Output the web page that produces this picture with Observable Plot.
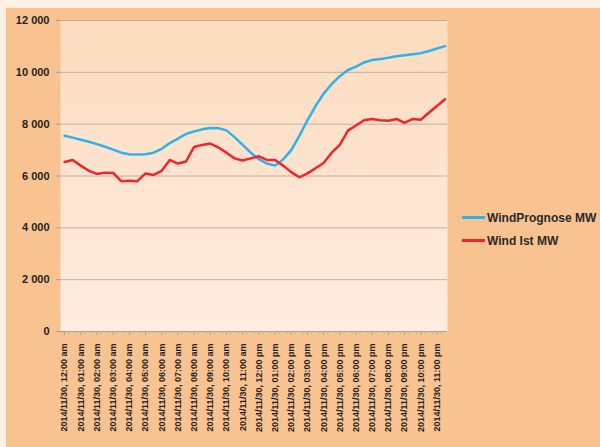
<!DOCTYPE html>
<html><head><meta charset="utf-8">
<script src="https://cdn.jsdelivr.net/npm/d3@7"></script>
<script src="https://cdn.jsdelivr.net/npm/@observablehq/plot@0.6"></script>
<style>
body{margin:0;background:#f9c291;}
#wrap{position:relative;width:600px;height:447px;background:#f9c291;overflow:hidden;font-family:"Liberation Sans",Arial,sans-serif;}
.strip-top{position:absolute;left:0;top:0;width:600px;height:7px;background:#fdf0e5;border-bottom:1px solid #fde6d2;}
.strip-left{position:absolute;left:0;top:0;width:6px;height:447px;background:#fdf0e5;}
#chart{position:absolute;left:0;top:0;}
#legend{position:absolute;left:462px;top:206px;font-size:12px;font-weight:bold;color:#2a2a2a;}
#legend .row{height:23px;display:flex;align-items:center;}
#legend .sw{display:inline-block;width:23px;height:3px;margin-right:2px;}
</style></head>
<body>
<div id="wrap"><div class="strip-top"></div><div class="strip-left"></div><div id="chart"></div><div id="legend"></div></div>
<script>
// Series names and colours
const seriesNames = ["WindPrognose MW", "Wind Ist MW"];
const seriesColors = ["#2db3e8", "#f2232b"];

// Half-hour time steps (hours since 2014/11/30 00:00)
const hours = d3.range(48).map(i => i / 2);

// WindPrognose MW (blue)
const prognose = [
  7550, 7480, 7400, 7320, 7230, 7130, 7020, 6900, 6840, 6830,
  6840, 6900, 7050, 7270, 7440, 7620, 7720, 7800, 7850, 7840,
  7760, 7500, 7200, 6900, 6650, 6480, 6400, 6640, 7000, 7550,
  8150, 8700, 9180, 9550, 9850, 10090, 10220, 10380, 10480, 10510,
  10560, 10620, 10660, 10700, 10740, 10820, 10920, 11010
];

// Wind Ist MW (red)
const ist = [
  6540, 6620, 6400, 6200, 6080, 6130, 6120, 5800, 5820, 5800,
  6100, 6040, 6200, 6620, 6480, 6560, 7120, 7200, 7250, 7100,
  6900, 6680, 6600, 6680, 6760, 6620, 6620, 6400, 6150, 5950,
  6100, 6300, 6500, 6900, 7200, 7750, 7950, 8150, 8200, 8150,
  8130, 8200, 8050, 8200, 8170, 8440, 8700, 8960
];

// Axis ticks
const yTicks = [0, 2000, 4000, 6000, 8000, 10000, 12000];
const yTickLabels = ["0", "2 000", "4 000", "6 000", "8 000", "10 000", "12 000"];
const xTickHours = d3.range(24);
const xTickLabels = [
  "2014/11/30, 12:00 am", "2014/11/30, 01:00 am", "2014/11/30, 02:00 am", "2014/11/30, 03:00 am",
  "2014/11/30, 04:00 am", "2014/11/30, 05:00 am", "2014/11/30, 06:00 am", "2014/11/30, 07:00 am",
  "2014/11/30, 08:00 am", "2014/11/30, 09:00 am", "2014/11/30, 10:00 am", "2014/11/30, 11:00 am",
  "2014/11/30, 12:00 pm", "2014/11/30, 01:00 pm", "2014/11/30, 02:00 pm", "2014/11/30, 03:00 pm",
  "2014/11/30, 04:00 pm", "2014/11/30, 05:00 pm", "2014/11/30, 06:00 pm", "2014/11/30, 07:00 pm",
  "2014/11/30, 08:00 pm", "2014/11/30, 09:00 pm", "2014/11/30, 10:00 pm", "2014/11/30, 11:00 pm"
];

const rows = hours.map((h, i) => ({h, prog: prognose[i], ist: ist[i]}));

const chart = Plot.plot({
  width: 600, height: 447,
  marginLeft: 60, marginRight: 153, marginTop: 20, marginBottom: 116,
  style: {background: "transparent", fontFamily: "'Liberation Sans', Arial, sans-serif", color: "#222"},
  x: {type: "linear", domain: [-0.25, 23.65]},
  y: {domain: [0, 12000]},
  marks: [
    Plot.frame({fill: "url(#bggrad)", stroke: "none"}),
    Plot.gridY(yTicks, {stroke: "#a39b93", strokeOpacity: 0.7, strokeWidth: 1}),
    Plot.ruleY([0], {stroke: "#a8a19a"}),
    Plot.axisY({ticks: yTicks, tickFormat: d => yTickLabels[yTicks.indexOf(d)], tickSize: 4, tickPadding: 7,
      fontSize: 11, fontWeight: "bold", label: null, stroke: "#a8a19a"}),
    Plot.axisX({ticks: hours.map(h => h + 0.25).slice(0, 47), tickFormat: () => "", tickSize: 3, label: null, stroke: "#b5aea7"}),
    Plot.axisX({ticks: xTickHours, tickFormat: d => xTickLabels[d], tickRotate: -90, tickSize: 4, tickPadding: 8,
      fontSize: 9, fontWeight: "bold", label: null, stroke: "#a8a19a"}),
    Plot.lineY(rows, {x: "h", y: "prog", stroke: seriesColors[0], strokeWidth: 2.5}),
    Plot.lineY(rows, {x: "h", y: "ist", stroke: seriesColors[1], strokeWidth: 2.5})
  ]
});

const ns = "http://www.w3.org/2000/svg";
const defs = document.createElementNS(ns, "defs");
defs.innerHTML = '<linearGradient id="bggrad" x1="0" y1="0" x2="0" y2="1"><stop offset="0" stop-color="#fddcbf"/><stop offset="1" stop-color="#feece0"/></linearGradient>';
chart.insertBefore(defs, chart.firstChild);
document.getElementById("chart").appendChild(chart);

const legend = document.getElementById("legend");
seriesNames.forEach((name, i) => {
  const row = document.createElement("div");
  row.className = "row";
  const sw = document.createElement("span");
  sw.className = "sw";
  sw.style.background = seriesColors[i];
  row.appendChild(sw);
  row.appendChild(document.createTextNode(name));
  legend.appendChild(row);
});
</script>
</body></html>
